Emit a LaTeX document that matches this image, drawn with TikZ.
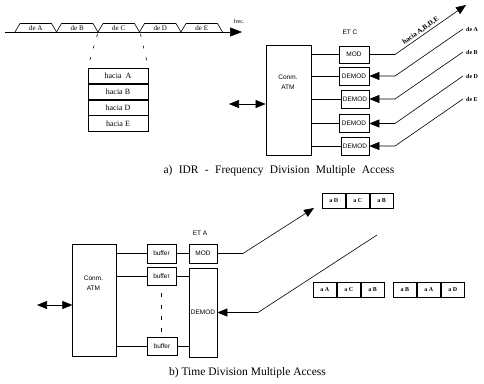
\documentclass[tikz,border=0pt]{standalone}
\usepackage{fontspec}
\setmainfont{Liberation Serif}
\newfontfamily\sansf{Liberation Sans}
\usetikzlibrary{arrows.meta}
\begin{document}
\begin{tikzpicture}[x=1pt,y=-1pt,
  box/.style={draw, line width=0.7pt, inner sep=0pt},
  wire/.style={line width=0.6pt},
  tip/.style={-{Triangle[length=10pt,width=8pt]}},
  dtip/.style={{Triangle[length=10pt,width=8pt]}-{Triangle[length=10pt,width=8pt]}},
  sm/.style={font=\sansf\fontsize{6.5}{7}\selectfont, inner sep=0pt},
  tl/.style={font=\fontsize{6}{7}\selectfont\bfseries, inner sep=0pt},
  cell/.style={box, minimum width=23.3pt, minimum height=15pt, font=\fontsize{6}{7}\selectfont\bfseries},
  row/.style={box, minimum width=60pt, minimum height=15.25pt, font=\fontsize{8}{9}\selectfont},
  captxt/.style={font=\fontsize{11.5}{13}\selectfont, inner sep=0pt}
]
\useasboundingbox (0,0) rectangle (484,383);

% ---------- (a) frequency axis ----------
\coordinate (ax0) at (5,32);
\coordinate (ax1) at (242,32);
\draw[wire, -{Triangle[length=12pt,width=9pt]}] (ax0) -- (ax1);
\node[font=\fontsize{6}{7}\selectfont, inner sep=0pt] (frec) at (239,21) {frec.};
\foreach \i/\t in {0/A,1/B,2/C,3/D,4/E}{
  \pgfmathsetmacro{\xa}{15+41.5*\i}
  \draw[wire] (\xa,32) -- (\xa+5,23.5) -- (\xa+36.5,23.5) -- (\xa+41.5,32);
  \node[font=\fontsize{7}{8}\selectfont, inner sep=0pt] (tr\t) at (\xa+20.75,28.5) {de \t};
}
% table
\node[row] (rowA) at (118,75.6) {hacia\ \ A};
\node[row, anchor=north] (rowB) at (rowA.south) {hacia B};
\node[row, anchor=north] (rowD) at (rowB.south) {hacia D};
\node[row, anchor=north] (rowE) at (rowD.south) {hacia E};
\coordinate (cL) at (97.5,34);
\coordinate (cR) at (140.5,34);
\draw[wire, dash pattern=on 3pt off 9pt] (cL) -- (rowA.north west);
\draw[wire, dash pattern=on 3pt off 9pt] (cR) -- (rowA.north east);

% ---------- (a) right part ----------
\node[box, minimum width=45pt, minimum height=110pt] (conmA) at (288.5,100) {};
\node[sm, align=center] (conmAt) at (288,82) {Conm.\\[3pt]ATM};
\coordinate (dA) at (229,104);
\draw[wire, dtip] (dA) -- (conmA.west |- dA);

\node[sm] (etc) at (350,32) {ET C};
\node[box, sm, minimum width=30pt, minimum height=17pt] (modA) at (354,54.5) {MOD};
\node[box, sm, minimum width=30pt, minimum height=18pt] (dem1) at (354,76) {DEMOD};
\node[box, sm, minimum width=28pt, minimum height=18pt] (dem2) at (355,99) {DEMOD};
\node[box, sm, minimum width=30pt, minimum height=18pt] (dem3) at (354,123.5) {DEMOD};
\node[box, sm, minimum width=28pt, minimum height=18pt] (dem4) at (355,146) {DEMOD};
\foreach \n in {modA,dem1,dem2,dem3,dem4}{
  \draw[wire] (conmA.east |- \n.west) -- (\n.west);
}
% outgoing
\coordinate (mbA) at (395,54.5);
\coordinate (mtA) at (466,5);
\draw[wire, tip] (modA.east) -- (mbA) -- node[pos=0.4, above, sloped, font=\fontsize{7}{8}\selectfont\bfseries, inner sep=1.5pt] (hac) {hacia~A,B,D,E} (mtA);
% incoming
\coordinate (b1) at (395,76);   \coordinate (e1) at (463,29);
\coordinate (b2) at (395,99);   \coordinate (e2) at (463,52);
\coordinate (b3) at (395,123.5);\coordinate (e3) at (463,76);
\coordinate (b4) at (395,146);  \coordinate (e4) at (463,99);
\draw[wire, tip] (e1) -- (b1) -- (dem1.east);
\draw[wire, tip] (e2) -- (b2) -- (dem2.east);
\draw[wire, tip] (e3) -- (b3) -- (dem3.east);
\draw[wire, tip] (e4) -- (b4) -- (dem4.east);
\node[tl, anchor=west] (lA) at (466,29) {de A};
\node[tl, anchor=west] (lB) at (466,52) {de B};
\node[tl, anchor=west] (lD) at (466,76) {de D};
\node[tl, anchor=west] (lE) at (466,99) {de E};

\node[captxt] (capa) at (279,171) {{\spaceskip=0.55em a) IDR - Frequency Division Multiple Access}};

% ---------- (b) ----------
\node[box, minimum width=44pt, minimum height=112pt] (conmB) at (94.7,300) {};
\node[sm, align=center] (conmBt) at (93.5,283.5) {Conm.\\[3pt]ATM};
\coordinate (dB) at (37,305);
\draw[wire, dtip] (dB) -- (conmB.west |- dB);

\node[box, sm, minimum width=29pt, minimum height=19pt] (buf1) at (161.5,253.5) {buffer};
\node[box, sm, minimum width=29pt, minimum height=18pt] (buf2) at (161.5,276) {buffer};
\node[box, sm, minimum width=30pt, minimum height=18pt] (buf3) at (162,346) {buffer};
\foreach \n in {buf1,buf2,buf3}{
  \draw[wire] (conmB.east |- \n.west) -- (\n.west);
}
\coordinate (dot0) at (161,293);
\coordinate (dot1) at (161,333);
\draw[line width=0.8pt, dash pattern=on 4pt off 7.5pt] (dot0) -- (dot1);

\node[sm] (eta) at (200,233) {ET A};
\node[box, sm, minimum width=28pt, minimum height=19pt] (modB) at (203,253.5) {MOD};
\node[box, sm, minimum width=28pt, minimum height=89pt] (demB) at (203,312.5) {DEMOD};
\draw[wire] (buf1.east) -- (modB.west);
\draw[wire] (buf2.east) -- (demB.west |- buf2.east);
\draw[wire] (buf3.east) -- (demB.west |- buf3.east);

\coordinate (mbB) at (243,253.5);
\coordinate (mtB) at (314,208);
\draw[wire, tip] (modB.east) -- (mbB) -- (mtB);
\coordinate (ibB) at (258,312.5);
\coordinate (ieB) at (377,235);
\draw[wire, tip] (ieB) -- (ibB) -- (demB.east);

% packets
\node[cell] (p1a) at (333.7,200.5) {a D};
\node[cell, anchor=west] (p1b) at (p1a.east) {a C};
\node[cell, anchor=west] (p1c) at (p1b.east) {a B};
\node[cell] (p2a) at (324.7,289.5) {a A};
\node[cell, anchor=west] (p2b) at (p2a.east) {a C};
\node[cell, anchor=west] (p2c) at (p2b.east) {a B};
\node[cell] (p3a) at (404.8,289.5) {a B};
\node[cell, anchor=west] (p3b) at (p3a.east) {a A};
\node[cell, anchor=west] (p3c) at (p3b.east) {a D};

\node[captxt] (capb) at (247.5,373) {b) Time Division Multiple Access};
\end{tikzpicture}
\end{document}
